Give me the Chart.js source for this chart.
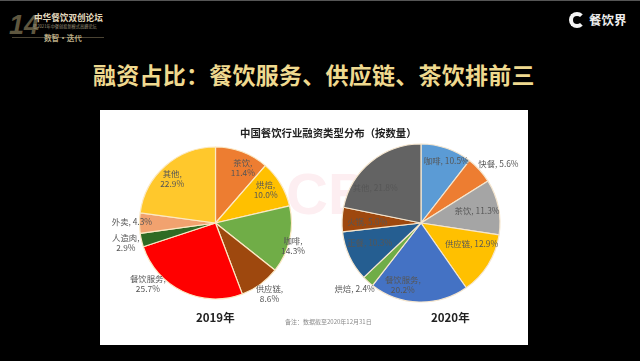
<!DOCTYPE html>
<html>
<head>
<meta charset="utf-8">
<script src="https://cdn.jsdelivr.net/npm/chart.js@4"></script>
<style>
  html, body { margin: 0; padding: 0; background: #000; }
  body { width: 640px; height: 361px; position: relative; overflow: hidden; font-family: "Noto Sans CJK SC", sans-serif; }
  .abs { position: absolute; white-space: nowrap; }
  #topline { left: 0; top: 0; width: 640px; height: 1px; background: #555; }
  #panel { left: 100px; top: 110px; width: 428px; height: 235px; background: #fff; filter: blur(0.5px); }
  #wm { left: 286px; top: 160px; font: bold 58px "Liberation Sans", sans-serif; color: #fdeef1; }
  #headline { left: 93px; top: 57px; font-size: 23px; font-weight: 700; color: #efd98f; line-height: 34px; letter-spacing: 0.25px; }
  #chartTitle { left: 240px; top: 125px; width: 174px; text-align: center; font-size: 10.4px; font-weight: 700; color: #222; line-height: 15px; }
  .year { top: 309px; font: bold 11.5px "Noto Sans CJK SC", sans-serif; color: #222; line-height: 16px; }
  #note { left: 285px; top: 317px; font-size: 6px; color: #8a8a8a; line-height: 9px; }
  canvas { position: absolute; filter: blur(0.35px); }
  #num14 { left: 9px; top: 9px; font: italic bold 27px "Liberation Sans", sans-serif; color: #5f573f; line-height: 32px; }
  #forum { left: 34px; top: 12px; font-size: 8.6px; font-weight: 700; color: #e3d9bd; line-height: 11px; }
  #forumSub { left: 33px; top: 23px; font-size: 4.2px; color: #9c927a; line-height: 6px; }
  #forumTag { left: 44px; top: 32px; font-size: 7.6px; font-weight: 700; color: #b9ab84; line-height: 11px; }
  #forumRule { left: 12px; top: 37px; width: 92px; height: 1px; background: #4a4333; }
  #logo { left: 569px; top: 12px; width: 8px; height: 8px; border: 4px solid #f4f4f4; border-right-color: transparent; border-radius: 50%; }
  #brand { left: 589px; top: 11px; font: 700 12.5px "Noto Sans CJK SC", sans-serif; color: #eee; line-height: 18px; }
</style>
</head>
<body>
<div class="abs" id="topline"></div>
<div class="abs" id="num14">14</div>
<div class="abs" id="forum">中华餐饮双创论坛</div>
<div class="abs" id="forumSub">暨2021年中餐创投新模式高峰论坛</div>
<div class="abs" id="forumRule"></div>
<div class="abs" id="forumTag">数智·迭代</div>
<div class="abs" id="logo"></div>
<div class="abs" id="brand">餐饮界</div>
<div class="abs" id="headline">融资占比：餐饮服务、供应链、茶饮排前三</div>
<div class="abs" id="panel"></div>
<div class="abs" id="wm">CBI</div>
<canvas id="pie2019" width="231" height="226" style="left:100px;top:110px"></canvas>
<canvas id="pie2020" width="200" height="226" style="left:321px;top:110px"></canvas>
<div class="abs" id="chartTitle">中国餐饮行业融资类型分布（按数量）</div>
<div class="abs year" style="left:196px">2019年</div>
<div class="abs year" style="left:431px">2020年</div>
<div class="abs" id="note">备注：数据截至2020年12月31日</div>

<script>
const names2019 = ['茶饮', '烘焙', '咖啡', '供应链', '餐饮服务', '人造肉', '外卖', '其他'];
const values2019 = [11.4, 10.0, 14.3, 8.6, 25.7, 2.9, 4.3, 22.9];
const colors2019 = ['#ED7D31', '#FFC000', '#70AD47', '#9E480E', '#FF0000', '#2F6B24', '#F1A26F', '#FFC82C'];

const names2020 = ['咖啡', '快餐', '茶饮', '供应链', '餐饮服务', '烘焙', '正餐', '火锅', '其他'];
const values2020 = [10.5, 5.6, 11.3, 12.9, 20.2, 2.4, 10.3, 5.0, 21.8];
const colors2020 = ['#5B9BD5', '#ED7D31', '#A5A5A5', '#FFC000', '#4472C4', '#70AD47', '#255E91', '#9E480E', '#636363'];

// label spots relative to pie centre, in radius units; stacked = name over value
const labelSpots2019 = [[.36, -.72, 1], [.66, -.44, 1], [1.02, .30, 1], [.71, .93, 1], [-.89, .80, 1], [-1.18, .26, 1], [-1.1, -.01, 0], [-.57, -.58, 1]];
const labelSpots2020 = [[.32, -.79, 0], [.98, -.75, 0], [.71, -.16, 0], [.64, .26, 0], [-.23, .78, 1], [-.84, .83, 0], [-.65, .25, 0], [-.68, -.01, 0], [-.58, -.45, 0]];

const sliceLabels = {
    id: 'sliceLabels',
    afterDraw(chart, args, opts) {
        const ctx = chart.ctx;
        const arc = chart.getDatasetMeta(0).data[0];
        const values = chart.data.datasets[0].data;
        ctx.save();
        ctx.font = '8.4px "Noto Sans CJK SC", sans-serif';
        ctx.fillStyle = '#565656';
        ctx.textAlign = 'center';
        ctx.textBaseline = 'middle';
        chart.data.labels.forEach((name, i) => {
            const [dx, dy, stacked] = opts.spots[i];
            const x = arc.x + dx * arc.outerRadius;
            const y = arc.y + dy * arc.outerRadius;
            const pct = values[i].toFixed(1) + '%';
            if (stacked) {
                ctx.fillText(name + ',', x, y - 5);
                ctx.fillText(pct, x, y + 5);
            } else {
                ctx.fillText(name + ', ' + pct, x, y);
            }
        });
        ctx.restore();
    }
};

function drawPie(canvasId, names, values, colors, spots, radius, edge) {
    new Chart(document.getElementById(canvasId), {
        type: 'pie',
        data: {
            labels: names,
            datasets: [{
                data: values,
                backgroundColor: colors,
                borderColor: edge,
                borderWidth: 1.2,
                radius: radius
            }]
        },
        options: {
            responsive: false,
            animation: false,
            plugins: {
                legend: { display: false },
                tooltip: { enabled: false },
                sliceLabels: { spots: spots }
            }
        },
        plugins: [sliceLabels]
    });
}

drawPie('pie2019', names2019, values2019, colors2019, labelSpots2019, 76, '#FBE9C4');
drawPie('pie2020', names2020, values2020, colors2020, labelSpots2020, 79, '#F5E6CF');
</script>
</body>
</html>
